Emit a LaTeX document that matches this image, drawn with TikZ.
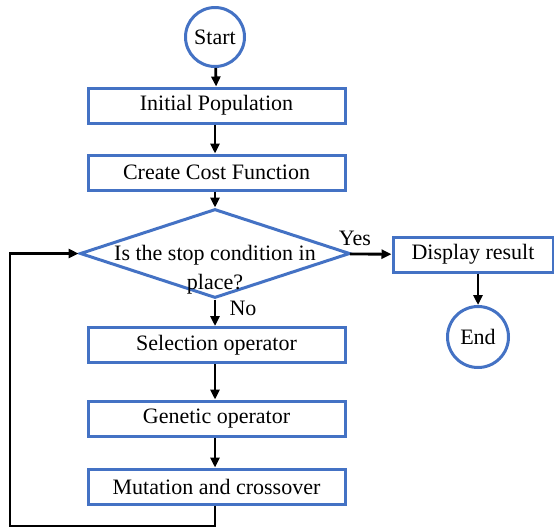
\documentclass[tikz,border=0pt]{standalone}
\usepackage{fontspec}
\setmainfont{Liberation Serif}
\usetikzlibrary{
  arrows.meta,      % for arrow tips
  shapes.geometric, % for diamond
  calc}
\definecolor{boxblue}{HTML}{4472C4}
\tikzset{
  flow box/.style={
    shape=rectangle, draw=boxblue, line width=3pt, fill=white,
    minimum width=257pt, minimum height=35pt, inner sep=0pt},
  terminal/.style={
    shape=circle, draw=boxblue, line width=3pt, fill=white,
    minimum size=#1, inner sep=0pt},
  decision/.style={
    shape=diamond, draw=boxblue, line width=3pt,
    minimum width=270pt, minimum height=89pt, inner sep=0pt},
  fat black line/.style={line width=2.8pt, black}
}

\begin{document}
\begin{tikzpicture}[
  x=1pt, y=-1pt,
  font=\fontsize{22}{29}\selectfont,
  >={Triangle[length=10pt, width=9pt]}]
\useasboundingbox (0,0) rectangle (554,531);

\node[terminal=59pt] (start) at (215,37) {Start};
\node[flow box] (init) at (216.5,105.5) {Initial Population};
\node[flow box] (cost) at (216.5,172.5) {Create Cost Function};
\node[decision] (stop) at (215,253.5) {};
\node[align=center] (stop-txt) at (215,270) {Is the stop condition in\\place?};
\node[flow box, minimum width=160pt] (disp) at (473,254.5) {Display result};
\node[terminal=61pt] (end) at (478,337) {End};
\node[flow box] (sel) at (216.5,345) {Selection operator};
\node[flow box] (gen) at (216.5,418.5) {Genetic operator};
\node[flow box] (mut) at (216.5,486.5) {Mutation and crossover};

\node (yes) at (355,238) {Yes};
\node (no) at (243,308) {No};

\coordinate (loop-b) at (10,526);

\path[fat black line, ->]
  (start) edge (init)
  (init.south-|stop) edge (cost.north-|stop)
  (cost.south-|stop) edge (stop)
  (stop) edge (disp)
  (disp.south-|end) edge (end)
  (stop.south) edge (sel.north-|stop)
  (sel.south-|stop) edge (gen.north-|stop)
  (gen.south-|stop) edge (mut.north-|stop);
\draw[fat black line, ->] (mut.south-|stop) |- (loop-b) |- (stop.west);
\end{tikzpicture}
\end{document}
